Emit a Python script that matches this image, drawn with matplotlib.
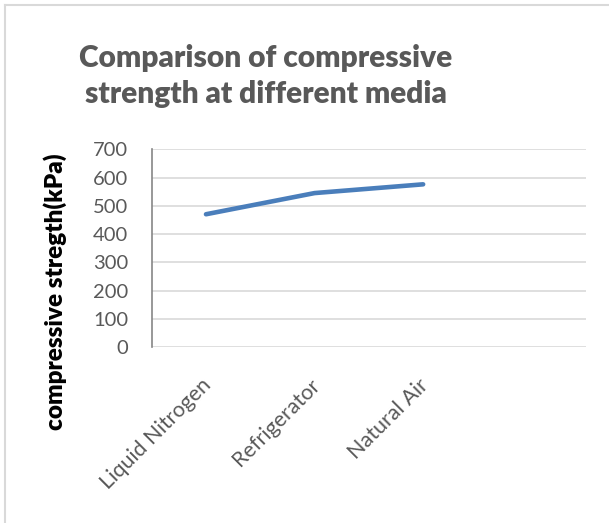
import matplotlib
matplotlib.use("Agg")
import matplotlib.pyplot as plt
from matplotlib.lines import Line2D
from matplotlib.transforms import ScaledTranslation

# Data
categories = ["Liquid Nitrogen", "Refrigerator", "Natural Air", ""]
strength_kpa = [470, 545, 576]
y_ticks = [0, 100, 200, 300, 400, 500, 600, 700]

plt.rcParams["font.family"] = ["Lato", "DejaVu Sans"]

W, H = 609, 523
fig = plt.figure(figsize=(W / 100, H / 100), dpi=100)
fig.patch.set_facecolor("white")

# chart frame (left and top edges)
frame_col = "#d9d9d9"
fig.add_artist(Line2D([5 / W, 5 / W], [0, 1 - 5 / H], transform=fig.transFigure,
                      color=frame_col, lw=1.5))
fig.add_artist(Line2D([5 / W, 1], [1 - 5 / H, 1 - 5 / H], transform=fig.transFigure,
                      color=frame_col, lw=1.5))

left, right, top, bottom = 151.7, 586, 149.3, 347
ax = fig.add_axes([left / W, 1 - bottom / H, (right - left) / W, (bottom - top) / H])

x = list(range(len(strength_kpa)))
ax.plot(x, strength_kpa, color="#4a7ebb", lw=3.3, solid_capstyle="round",
        solid_joinstyle="round", zorder=3)

ax.set_xlim(-0.5, len(categories) - 0.5)
ax.set_ylim(0, 700)
ax.set_yticks(y_ticks)
ax.set_yticklabels([str(v) for v in y_ticks])
ax.grid(axis="y", color="#d9d9d9", lw=1.2)
ax.set_axisbelow(True)

for s in ["top", "right", "bottom"]:
    ax.spines[s].set_visible(False)
ax.spines["left"].set_color("#868686")
ax.spines["left"].set_linewidth(1.2)

ax.tick_params(axis="y", length=0, pad=17, labelsize=14.5, labelcolor="#595959")
ax.tick_params(axis="x", length=0, pad=20, labelsize=15.5, labelcolor="#595959")
ax.set_xticks(range(len(categories)))
ax.set_xticklabels(categories, rotation=45, ha="right", rotation_mode="anchor")
shift = ScaledTranslation(-5 / 100, 0, fig.dpi_scale_trans)
for lbl in ax.get_xticklabels():
    lbl.set_transform(lbl.get_transform() + shift)

fig.text(55 / W, 1 - 291.5 / H, "compressive stregth(kPa)", rotation=90,
         ha="center", va="center", fontsize=17.5, fontweight="heavy", color="black")

fig.text(266 / W, 1 - 76 / H, "Comparison of compressive\nstrength at different media",
         ha="center", va="center", fontsize=21.5, fontweight="heavy", color="#595959",
         linespacing=1.38)

fig.savefig("out.png", dpi=100, facecolor="white")
